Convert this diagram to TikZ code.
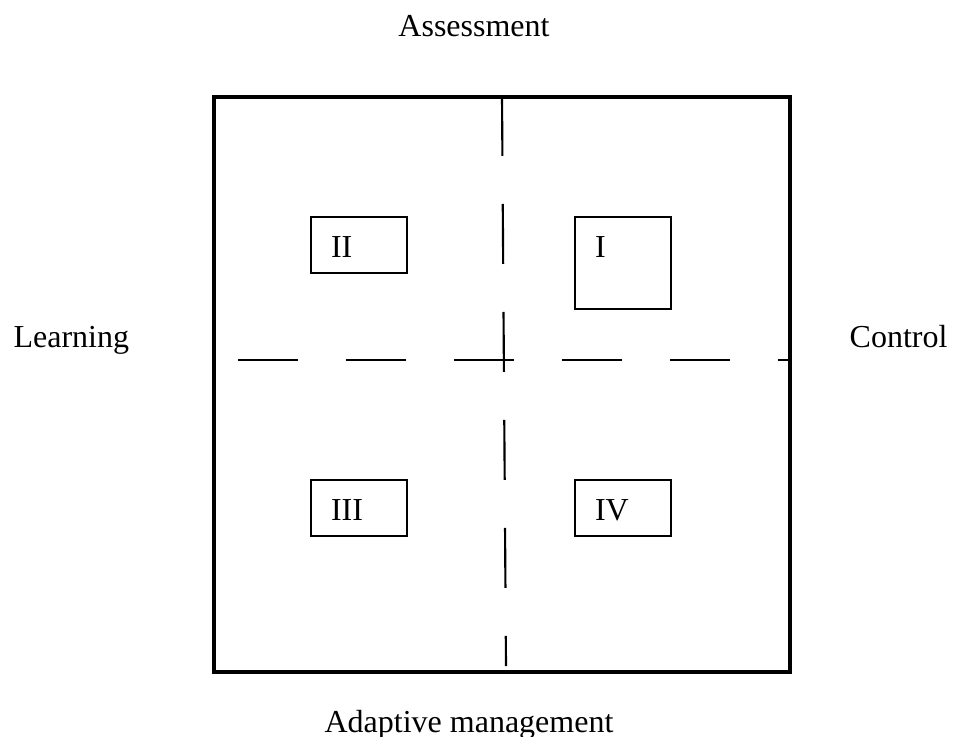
\documentclass[tikz,border=0pt]{standalone}
\usepackage{fontspec}
\setmainfont{Liberation Serif}
\usetikzlibrary{positioning,calc}
\tikzset{
  frame/.style={draw=black,line width=1.3pt},
  quad/.style={draw=black,line width=0.8pt,anchor=north west,inner xsep=7.5pt,
    inner ysep=0pt,text width=21pt,align=left,text height=15pt,text depth=6pt,
    font=\fontsize{12}{14}\selectfont},
  axlbl/.style={inner sep=0pt,font=\fontsize{12}{14}\selectfont},
  divider/.style={draw=black,line width=0.8pt,dash pattern=on 22.5pt off 18pt},
}

\begin{document}
\begin{tikzpicture}[x=0.375pt,y=-0.375pt]
\useasboundingbox (0,0) rectangle (953,737);

% outer frame
\draw[frame] (214,97) rectangle (790,672);

% dividers
\coordinate (vtop) at (502,96);
\coordinate (vbot) at (506,666);
\coordinate (hleft) at (238,360);
\coordinate (hright) at (790,360);
\draw[divider] (hleft) -- (hright);
\draw[divider] (vtop) -- (vbot);

% quadrants
\node[quad] (q2) at (310,216) {II};
\node[quad,text depth=19.5pt] (q1) at (574,216) {I};
\node[quad] (q3) at (310,479) {III};
\node[quad] (q4) at (574,479) {IV};

% axis labels
\node[axlbl,anchor=base] (assess) at (474,37) {Assessment};
\node[axlbl,anchor=base west] (learn) at (13,348) {Learning};
\node[axlbl,anchor=base east] (ctrl) at (948,347) {Control};
\node[axlbl,anchor=base] (adapt) at (469,732) {Adaptive management};
\end{tikzpicture}
\end{document}
